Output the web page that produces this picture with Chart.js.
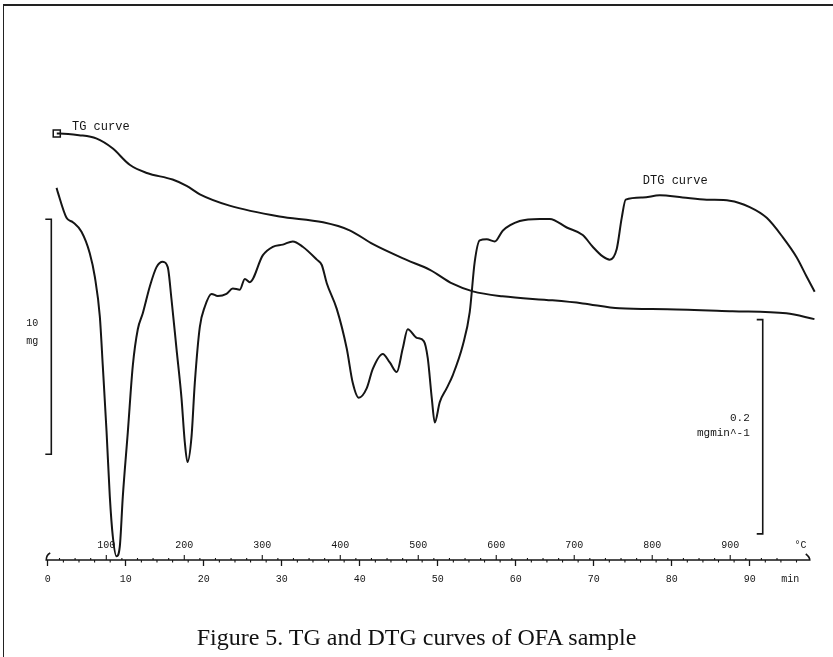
<!DOCTYPE html>
<html>
<head>
<meta charset="utf-8">
<title>TG and DTG curves of OFA sample</title>
<script src="https://cdn.jsdelivr.net/npm/chart.js@4/dist/chart.umd.min.js"></script>
<style>
  html, body { margin: 0; padding: 0; background: #fff; }
  #wrap { position: relative; width: 833px; height: 657px; overflow: hidden; }
  #frame { position: absolute; left: 3px; top: 4px; right: -4px; bottom: -4px;
           border-left: 1.5px solid #222; border-top: 2px solid #222; pointer-events: none; }
  #caption { position: absolute; left: 0; width: 833px; top: 623px; text-align: center;
             font-family: "Liberation Serif", "Times New Roman", serif; font-size: 24px;
             line-height: 28px; color: #111; }
</style>
</head>
<body>
<div id="wrap">
  <canvas id="grafico" width="833" height="657"></canvas>
  <div id="frame"></div>
  <div id="caption">Figure 5. TG and DTG curves of OFA sample</div>
</div>
<script>
const ink = "#151515";

// TG curve - time (min) / sample mass (mg)
const tgTime = [1.15, 1.5, 4.0, 6.2, 8.3, 10.5, 12.7, 16.0, 17.8, 19.5, 23.3, 29.7, 35.3, 38.7,
  41.7, 46.0, 49.0, 51.9, 54.5, 58.3, 64.7, 68.6, 73.3, 79.4, 87.8, 94.7, 98.3];
const tgMass = [20.00, 20.00, 19.93, 19.79, 19.37, 18.67, 18.32, 18.04, 17.77, 17.41, 16.93, 16.47,
  16.22, 15.88, 15.29, 14.62, 14.20, 13.61, 13.28, 13.07, 12.90, 12.77, 12.56, 12.52, 12.44, 12.35, 12.10];

// DTG curve - time (min) / rate (mg/min)
const dtgTime = [1.12, 1.28, 2.40, 3.21, 4.32, 5.38, 6.03, 6.67, 7.05, 7.53,
  7.95, 8.33, 8.81, 9.23, 9.62, 10.26, 10.90, 11.54, 12.18, 13.08,
  13.94, 14.74, 15.38, 15.86, 16.50, 17.14, 17.56, 17.91, 18.42, 18.85,
  19.49, 20.13, 20.99, 21.79, 22.91, 23.72, 24.62, 25.26, 25.90, 27.56,
  28.85, 30.13, 31.41, 32.69, 34.49, 35.13, 35.77, 37.05, 38.33, 39.10,
  39.87, 40.90, 41.67, 42.95, 43.85, 44.74, 45.51, 46.15, 47.31, 48.21,
  48.72, 49.23, 49.62, 50.26, 51.15, 51.92, 53.21, 54.10, 54.74, 55.38,
  56.28, 57.31, 58.33, 60.51, 63.08, 64.36, 66.54, 68.59, 69.87, 71.15,
  72.05, 72.95, 73.59, 74.10, 76.28, 78.46, 81.41, 84.49, 87.44, 90.00,
  92.18, 94.23, 96.03, 97.31, 98.33];
const dtgRate = [0.011, 0.007, -0.017, -0.021, -0.030, -0.050, -0.072, -0.109, -0.155, -0.216,
  -0.277, -0.314, -0.333, -0.324, -0.277, -0.217, -0.155, -0.121, -0.106, -0.081,
  -0.063, -0.058, -0.063, -0.093, -0.139, -0.185, -0.226, -0.245, -0.222, -0.171,
  -0.119, -0.100, -0.088, -0.090, -0.088, -0.083, -0.084, -0.074, -0.077, -0.052,
  -0.044, -0.042, -0.039, -0.044, -0.056, -0.061, -0.078, -0.102, -0.139, -0.171,
  -0.185, -0.176, -0.158, -0.144, -0.152, -0.161, -0.139, -0.121, -0.129, -0.132,
  -0.148, -0.185, -0.208, -0.189, -0.176, -0.164, -0.136, -0.105, -0.058, -0.038,
  -0.037, -0.039, -0.029, -0.020, -0.018, -0.018, -0.026, -0.033, -0.044, -0.053,
  -0.056, -0.046, -0.017, 0.000, 0.002, 0.004, 0.002, 0.000, -0.001, -0.007,
  -0.017, -0.035, -0.054, -0.072, -0.086];

// axis labels
const timeTicks = [0, 10, 20, 30, 40, 50, 60, 70, 80, 90];
const timeUnitAt = 95.2;
const tempTicks = [100, 200, 300, 400, 500, 600, 700, 800, 900];
const tempUnitAt = 990;
const startTemp = 25;   // °C at t = 0
const heatRate = 10;    // °C/min
const tempToTime = (T) => (T - startTemp) / heatRate;

// scale bars
const tgBar = [6.35, 16.35];       // 10 mg
const dtgBar = [-0.312, -0.112];   // 0.2 mg/min

const mono = "'Liberation Mono', 'DejaVu Sans Mono', monospace";

const decor = {
  id: "decor",
  afterDraw(chart) {
    const ctx = chart.ctx;
    const xs = chart.scales.x;
    const yT = chart.scales.yTG;
    const yD = chart.scales.yDTG;
    const base = chart.chartArea.bottom;
    ctx.save();
    ctx.strokeStyle = ink;
    ctx.fillStyle = ink;
    ctx.lineWidth = 1.6;

    // axis line with end hooks
    const x0 = xs.getPixelForValue(-0.2);
    const x1 = xs.getPixelForValue(97.7);
    ctx.beginPath();
    ctx.moveTo(x0 + 4, base - 7);
    ctx.quadraticCurveTo(x0, base - 5, x0, base);
    ctx.lineTo(x1, base);
    ctx.quadraticCurveTo(x1, base - 3, x1 - 4, base - 6);
    ctx.stroke();

    // minor minute ticks
    ctx.lineWidth = 1.1;
    for (let t = 2; t < 97; t += 2) {
      if (t % 10 === 0) continue;
      const px = xs.getPixelForValue(t);
      ctx.beginPath();
      ctx.moveTo(px, base);
      ctx.lineTo(px, base + 2.5);
      ctx.stroke();
    }

    // temperature scale (above the line)
    for (let T = 40; T < 980; T += 20) {
      if (T % 100 === 0) continue;
      const px = xs.getPixelForValue(tempToTime(T));
      ctx.beginPath();
      ctx.moveTo(px, base);
      ctx.lineTo(px, base - 2);
      ctx.stroke();
    }
    ctx.font = "10px " + mono;
    ctx.textAlign = "center";
    ctx.textBaseline = "middle";
    tempTicks.forEach((T) => {
      const px = xs.getPixelForValue(tempToTime(T));
      ctx.beginPath();
      ctx.moveTo(px, base);
      ctx.lineTo(px, base - 5);
      ctx.stroke();
      ctx.fillText(String(T), px, base - 15);
    });
    ctx.fillText("°C", xs.getPixelForValue(tempToTime(tempUnitAt)), base - 15);

    // 10 mg bar
    ctx.lineWidth = 1.6;
    const bx = xs.getPixelForValue(0.45);
    const bt = yT.getPixelForValue(tgBar[1]);
    const bb = yT.getPixelForValue(tgBar[0]);
    ctx.beginPath();
    ctx.moveTo(bx - 6, bt); ctx.lineTo(bx, bt); ctx.lineTo(bx, bb); ctx.lineTo(bx - 6, bb);
    ctx.stroke();
    const bm = (bt + bb) / 2;
    ctx.fillText("10", bx - 19, bm - 13);
    ctx.fillText("mg", bx - 19, bm + 5);

    // 0.2 mg/min bar
    const dx = xs.getPixelForValue(91.67);
    const dt = yD.getPixelForValue(dtgBar[1]);
    const db = yD.getPixelForValue(dtgBar[0]);
    ctx.beginPath();
    ctx.moveTo(dx - 6, dt); ctx.lineTo(dx, dt); ctx.lineTo(dx, db); ctx.lineTo(dx - 6, db);
    ctx.stroke();
    const dm = (dt + db) / 2;
    ctx.font = "11px " + mono;
    ctx.textAlign = "right";
    ctx.fillText("0.2", dx - 13, dm - 9);
    ctx.fillText("mgmin^-1", dx - 13, dm + 6);

    // curve names
    ctx.font = "12px " + mono;
    ctx.textAlign = "left";
    ctx.fillText("TG curve", xs.getPixelForValue(3.1), yT.getPixelForValue(20) - 7);
    ctx.fillText("DTG curve", xs.getPixelForValue(76.3), yD.getPixelForValue(0) - 19);

    ctx.restore();
  },
};

const tgData = tgTime.map((t, i) => ({ x: t, y: tgMass[i] }));
const dtgData = dtgTime.map((t, i) => ({ x: t, y: dtgRate[i] }));

new Chart(document.getElementById("grafico"), {
  type: "line",
  data: {
    datasets: [
      {
        label: "TG curve",
        data: tgData,
        yAxisID: "yTG",
        borderColor: ink,
        borderWidth: 2,
        backgroundColor: "rgba(0,0,0,0)",
        pointRadius: (c) => (c.dataIndex === 0 ? 5 : 0),
        pointStyle: "rect",
        pointBorderWidth: 1.5,
        pointBorderColor: ink,
        pointBackgroundColor: "rgba(0,0,0,0)",
        cubicInterpolationMode: "monotone",
        fill: false,
      },
      {
        label: "DTG curve",
        data: dtgData,
        yAxisID: "yDTG",
        borderColor: ink,
        borderWidth: 2,
        backgroundColor: "rgba(0,0,0,0)",
        pointRadius: 0,
        cubicInterpolationMode: "monotone",
        fill: false,
      },
    ],
  },
  options: {
    responsive: false,
    animation: false,
    devicePixelRatio: 1,
    layout: { padding: { left: 40, right: 17, top: 20, bottom: 65 } },
    plugins: {
      legend: { display: false },
      tooltip: { enabled: false },
      title: { display: false },
    },
    scales: {
      x: {
        type: "linear",
        min: -1,
        max: 98.5,
        afterBuildTicks: (s) => {
          s.ticks = timeTicks.concat([timeUnitAt]).map((v) => ({ value: v }));
        },
        ticks: {
          autoSkip: false,
          maxRotation: 0,
          padding: 7,
          color: ink,
          font: { family: mono, size: 10 },
          callback: (v) => (v === timeUnitAt ? "min" : String(v)),
        },
        grid: {
          drawOnChartArea: false,
          tickLength: 6,
          tickWidth: 1.3,
          tickColor: (c) => (c.tick && c.tick.value > 90 ? "rgba(0,0,0,0)" : ink),
        },
        border: { display: false },
      },
      yTG: { type: "linear", display: false, min: 1.85, max: 24.83 },
      yDTG: { type: "linear", display: false, min: -0.3364, max: 0.1677 },
    },
  },
  plugins: [decor],
});
</script>
</body>
</html>
